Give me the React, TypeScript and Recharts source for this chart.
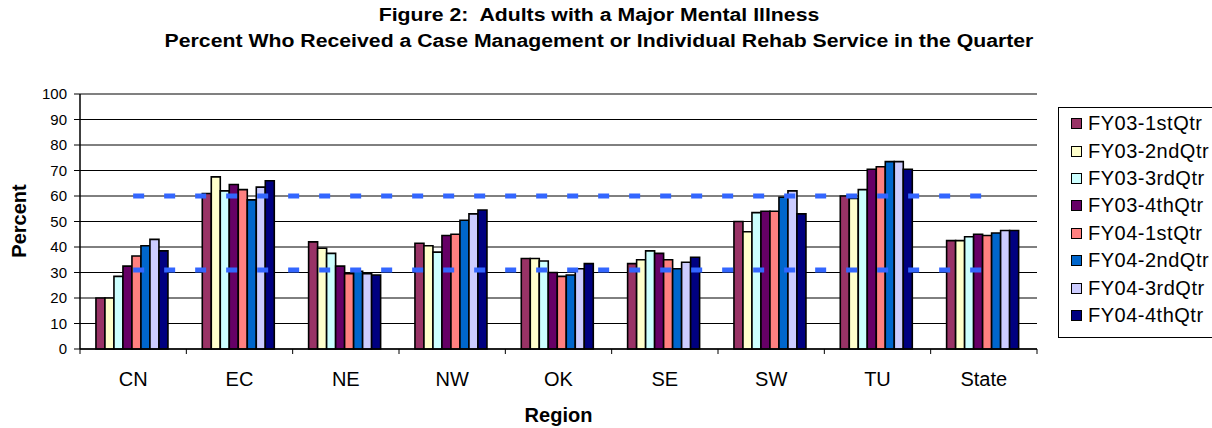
import React from "react";
import {
  ComposedChart,
  Bar,
  Line,
  XAxis,
  YAxis,
  CartesianGrid,
  ReferenceLine,
} from "recharts";

const regions = ["CN", "EC", "NE", "NW", "OK", "SE", "SW", "TU", "State"];

const fy03q1 = [20, 61, 42, 41.5, 35.5, 33.5, 50, 60, 42.5];
const fy03q2 = [20, 67.5, 39.5, 40.5, 35.5, 35, 46, 59, 42.5];
const fy03q3 = [28.5, 62, 37.5, 38, 34.5, 38.5, 53.5, 62.5, 44];
const fy03q4 = [32.5, 64.5, 32.5, 44.5, 30, 37.5, 54, 70.5, 45];
const fy04q1 = [36.5, 62.5, 29.5, 45, 28.5, 35, 54, 71.5, 44.5];
const fy04q2 = [40.5, 58.5, 30.5, 50.5, 29, 31.5, 59.5, 73.5, 45.5];
const fy04q3 = [43, 63.5, 29.5, 53, 31.5, 34, 62, 73.5, 46.5];
const fy04q4 = [38.5, 66, 29, 54.5, 33.5, 36, 53, 70.5, 46.5];

// the two dashed benchmark lines
const upperMark = [60, 60, 60, 60, 60, 60, 60, 60, 60];
const lowerMark = [31, 31, 31, 31, 31, 31, 31, 31, 31];

const yTicks = [0, 10, 20, 30, 40, 50, 60, 70, 80, 90, 100];

const series = [
  { key: "fy03q1", name: "FY03-1stQtr", color: "#993366", values: fy03q1 },
  { key: "fy03q2", name: "FY03-2ndQtr", color: "#FFFFCC", values: fy03q2 },
  { key: "fy03q3", name: "FY03-3rdQtr", color: "#CCFFFF", values: fy03q3 },
  { key: "fy03q4", name: "FY03-4thQtr", color: "#660066", values: fy03q4 },
  { key: "fy04q1", name: "FY04-1stQtr", color: "#FF8080", values: fy04q1 },
  { key: "fy04q2", name: "FY04-2ndQtr", color: "#0066CC", values: fy04q2 },
  { key: "fy04q3", name: "FY04-3rdQtr", color: "#CCCCFF", values: fy04q3 },
  { key: "fy04q4", name: "FY04-4thQtr", color: "#000080", values: fy04q4 },
];

const data = regions.map((region, i) => {
  const row: Record<string, string | number> = {
    region,
    upper: upperMark[i],
    lower: lowerMark[i],
  };
  series.forEach((s) => {
    row[s.key] = s.values[i];
  });
  return row;
});

const FONT = "'Liberation Sans', Arial, sans-serif";
const W = 1212;
const H = 428;
const PLOT_LEFT = 80;
const PLOT_RIGHT = 1037;
const HALF_BAND = (PLOT_RIGHT - PLOT_LEFT) / regions.length / 2;

// category ticks sit between groups, like Excel
function RegionTick(props: any) {
  const { x, y, payload, index } = props;
  const last = index === regions.length - 1;
  return (
    <g>
      <line x1={x - HALF_BAND} x2={x - HALF_BAND} y1={y - 5} y2={y} stroke="#000" />
      {last && (
        <line x1={x + HALF_BAND} x2={x + HALF_BAND} y1={y - 5} y2={y} stroke="#000" />
      )}
      <text
        x={x}
        y={y + 32}
        textAnchor="middle"
        fontSize={20}
        fontFamily={FONT}
        fill="#000"
      >
        {payload.value}
      </text>
    </g>
  );
}

const titleStyle: React.CSSProperties = {
  position: "absolute",
  left: 0,
  width: 1198,
  textAlign: "center",
  fontSize: 18,
  fontWeight: "bold",
  lineHeight: "20px",
  transform: "scaleX(1.18)",
  transformOrigin: "599px 0",
  whiteSpace: "nowrap",
};

export default function App() {
  return (
    <div
      style={{
        position: "absolute",
        left: 0,
        top: 0,
        width: W,
        height: H,
        background: "#fff",
        overflow: "hidden",
        fontFamily: FONT,
        color: "#000",
      }}
    >
      <div style={{ ...titleStyle, top: 5 }}>
        Figure 2:&nbsp; Adults with a Major Mental Illness
      </div>
      <div style={{ ...titleStyle, top: 31 }}>
        Percent Who Received a Case Management or Individual Rehab Service in the Quarter
      </div>

      <ComposedChart
        width={W}
        height={H}
        data={data}
        margin={{ top: 94, right: W - PLOT_RIGHT, bottom: 39, left: PLOT_LEFT - 36 }}
        barGap={0}
        barCategoryGap="15%"
      >
        <CartesianGrid vertical={false} stroke="#000" strokeWidth={1} />
        <XAxis
          dataKey="region"
          height={40}
          axisLine={{ stroke: "#000", strokeWidth: 1.5 }}
          tickLine={false}
          tickSize={5}
          tickMargin={0}
          tick={<RegionTick />}
          interval={0}
        />
        <YAxis
          width={36}
          domain={[0, 100]}
          ticks={yTicks}
          interval={0}
          axisLine={{ stroke: "#000", strokeWidth: 1.5 }}
          tickLine={{ stroke: "#000" }}
          tickSize={6}
          tickMargin={7}
          tick={{ fontSize: 15, fill: "#000", fontFamily: FONT }}
        />
        <YAxis
          yAxisId="frame"
          orientation="right"
          width={0}
          domain={[0, 100]}
          tick={false}
          tickLine={false}
          axisLine={{ stroke: "#808080", strokeWidth: 2 }}
        />
        <ReferenceLine y={100} stroke="#808080" strokeWidth={2} />
        {series.map((s) => (
          <Bar
            key={s.key}
            dataKey={s.key}
            name={s.name}
            fill={s.color}
            stroke="#000"
            strokeWidth={1.6}
            isAnimationActive={false}
          />
        ))}
        <Line
          dataKey="upper"
          stroke="#3366FF"
          strokeWidth={5}
          strokeDasharray="11 20"
          dot={false}
          activeDot={false}
          legendType="none"
          isAnimationActive={false}
        />
        <Line
          dataKey="lower"
          stroke="#3366FF"
          strokeWidth={5}
          strokeDasharray="11 20"
          dot={false}
          activeDot={false}
          legendType="none"
          isAnimationActive={false}
        />
      </ComposedChart>

      <div
        style={{
          position: "absolute",
          left: 19,
          top: 221,
          fontSize: 20,
          fontWeight: "bold",
          transform: "translate(-50%, -50%) rotate(-90deg)",
          whiteSpace: "nowrap",
        }}
      >
        Percent
      </div>
      <div
        style={{
          position: "absolute",
          left: PLOT_LEFT,
          width: PLOT_RIGHT - PLOT_LEFT,
          top: 403,
          textAlign: "center",
          fontSize: 20,
          fontWeight: "bold",
          lineHeight: "24px",
        }}
      >
        Region
      </div>

      <div
        style={{
          position: "absolute",
          left: 1058,
          top: 107,
          width: 170,
          height: 231,
          border: "1px solid #000",
          boxSizing: "border-box",
          paddingTop: 2,
        }}
      >
        {series.map((s) => (
          <div
            key={s.key}
            style={{ display: "flex", alignItems: "center", height: 27.4, paddingLeft: 12 }}
          >
            <span
              style={{
                width: 11,
                height: 11,
                background: s.color,
                border: "1.5px solid #000",
                boxSizing: "border-box",
                flex: "none",
              }}
            />
            <span style={{ marginLeft: 6, fontSize: 20, letterSpacing: 0.5, whiteSpace: "nowrap" }}>
              {s.name}
            </span>
          </div>
        ))}
      </div>
    </div>
  );
}
